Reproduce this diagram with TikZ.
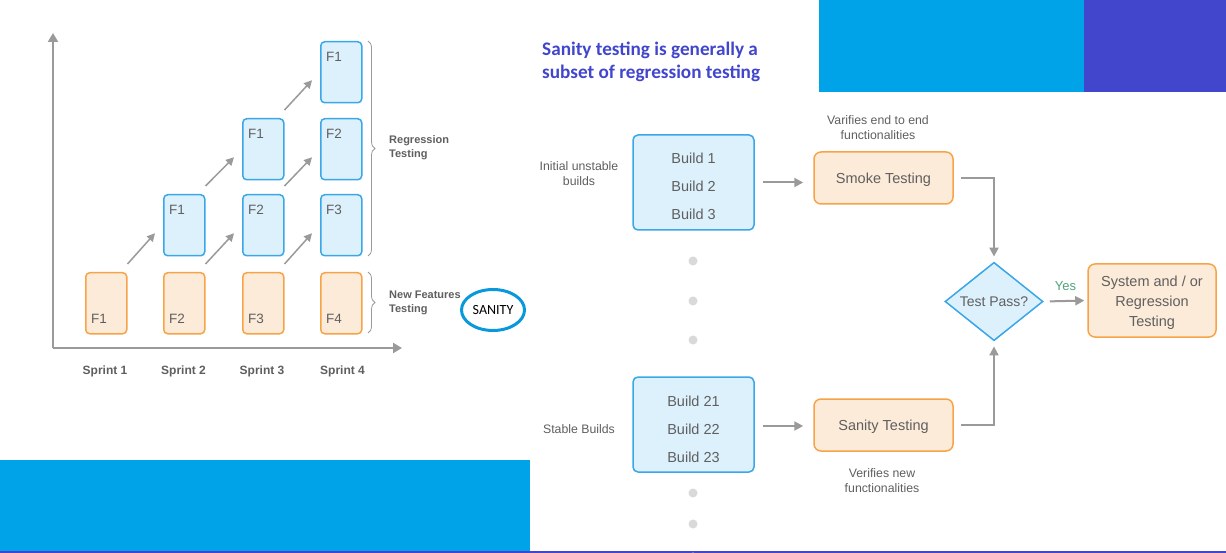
\documentclass[tikz,border=0pt]{standalone}
\usepackage{fontspec}
\setmainfont{Liberation Sans}
\newfontfamily\calib{Carlito}
\usetikzlibrary{arrows.meta,shapes.geometric,decorations.pathreplacing,calc}
\definecolor{cyanbar}{HTML}{00A3E8}
\definecolor{purplebar}{HTML}{4146CC}
\definecolor{bluefill}{HTML}{DDF1FD}
\definecolor{blueline}{HTML}{3AA7E8}
\definecolor{orfill}{HTML}{FDEBD9}
\definecolor{orline}{HTML}{F7A448}
\definecolor{txtgray}{HTML}{5F5F5F}
\definecolor{arrgray}{HTML}{9A9A9A}
\definecolor{dotgray}{HTML}{D9D9D9}
\definecolor{yesgreen}{HTML}{4DA57A}
\definecolor{ringblue}{HTML}{0A98DC}
\begin{document}
\begin{tikzpicture}[x=1pt,y=-1pt,
  axis/.style={draw=arrgray,line width=2pt,-{Triangle[length=9pt,width=10pt]}},
  diag/.style={draw=arrgray,line width=1.5pt,-{Triangle[length=8pt,width=8pt]}},
  flow/.style={draw=arrgray,line width=2pt,-{Triangle[length=9pt,width=9pt]}},
  featbox/.style={minimum width=41pt,minimum height=61pt,rounded corners=4pt,line width=1.5pt,inner sep=0pt,anchor=north west},
  obox/.style={featbox,draw=orline,fill=orfill},
  bbox/.style={featbox,draw=blueline,fill=bluefill},
  flab/.style={anchor=west,inner sep=0pt,text=txtgray,font=\fontsize{13.5}{15}\selectfont},
  sprintlab/.style={text=txtgray,font=\bfseries\fontsize{12}{14}\selectfont},
  sidelab/.style={anchor=west,align=left,inner sep=0pt,text=txtgray,font=\bfseries\fontsize{11}{14}\selectfont},
  bracestyle/.style={draw=arrgray,line width=0.8pt,decorate,decoration={brace,amplitude=7pt}},
  buildbox/.style={draw=blueline,fill=bluefill,line width=1.5pt,rounded corners=5pt,minimum width=121pt,minimum height=95pt},
  testbox/.style={draw=orline,fill=orfill,line width=1.5pt,rounded corners=7pt,minimum width=139pt,minimum height=52pt},
  boxtext/.style={align=center,inner sep=0pt,text=txtgray,font=\fontsize{14.5}{28}\selectfont},
  note/.style={align=center,text=txtgray,font=\fontsize{12.3}{15}\selectfont},
  dot/.style={circle,fill=dotgray,minimum size=9pt,inner sep=0pt}
]
\clip (0,0) rectangle (1226,553);
\fill[white] (0,0) rectangle (1226,553);
% colour bars
\fill[cyanbar] (819,0) rectangle (1084,92);
\fill[purplebar] (1084,0) rectangle (1226,92);
\fill[cyanbar] (0,460) rectangle (530,553);
\fill[purplebar] (0,551) rectangle (1226,553);

% ---------- left chart ----------
\coordinate (origin) at (53,348);
\coordinate (ytip) at (53,33);
\coordinate (xtip) at (402,348);
\draw[axis] (origin) -- (ytip);
\draw[axis] (origin) -- (xtip);

\node[obox] (o1) at (85,272) {};
\node[obox] (o2) at (163,272) {};
\node[obox] (o3) at (242,272) {};
\node[obox] (o4) at (320,272) {};
\node[bbox] (b21) at (163,194) {};
\node[bbox] (b31) at (242,194) {};
\node[bbox] (b32) at (242,118) {};
\node[bbox] (b41) at (320,194) {};
\node[bbox] (b42) at (320,118) {};
\node[bbox] (b43) at (320,41) {};

\node[flab] (o1t) at ($(o1.south west)+(6,-16)$) {F1};
\node[flab] (o2t) at ($(o2.south west)+(6,-16)$) {F2};
\node[flab] (o3t) at ($(o3.south west)+(6,-16)$) {F3};
\node[flab] (o4t) at ($(o4.south west)+(6,-16)$) {F4};
\node[flab] (b21t) at ($(b21.north west)+(6,16)$) {F1};
\node[flab] (b31t) at ($(b31.north west)+(6,16)$) {F2};
\node[flab] (b32t) at ($(b32.north west)+(6,16)$) {F1};
\node[flab] (b41t) at ($(b41.north west)+(6,16)$) {F3};
\node[flab] (b42t) at ($(b42.north west)+(6,16)$) {F2};
\node[flab] (b43t) at ($(b43.north west)+(6,16)$) {F1};

\draw[diag] ([yshift=8pt]o1.north east) -- ([xshift=-8pt,yshift=-8pt]b21.west);
\draw[diag] ([yshift=8pt]o2.north east) -- ([xshift=-8pt,yshift=-8pt]b31.west);
\draw[diag] ([yshift=8pt]o3.north east) -- ([xshift=-8pt,yshift=-8pt]b41.west);
\draw[diag] ([yshift=8pt]b21.north east) -- ([xshift=-8pt,yshift=-8pt]b32.west);
\draw[diag] ([yshift=8pt]b31.north east) -- ([xshift=-8pt,yshift=-8pt]b42.west);
\draw[diag] ([yshift=8pt]b32.north east) -- ([xshift=-8pt,yshift=-8pt]b43.west);

\coordinate (br1a) at (368,41);
\coordinate (br1b) at (368,256);
\coordinate (br2a) at (368,272);
\coordinate (br2b) at (368,333);
\draw[bracestyle] (br1a) -- (br1b);
\draw[bracestyle] (br2a) -- (br2b);
\node[sidelab] (reglab) at (389,148) {Regression\\Testing};
\node[sidelab] (nflab) at (389,303) {New Features\\Testing};

\node[sprintlab] (s1) at (105,371) {Sprint 1};
\node[sprintlab] (s2) at (183.5,371) {Sprint 2};
\node[sprintlab] (s3) at (262,371) {Sprint 3};
\node[sprintlab] (s4) at (342.5,371) {Sprint 4};

\node[ellipse,draw=ringblue,line width=3pt,minimum width=63pt,minimum height=41pt,inner sep=0pt,font=\calib\fontsize{14}{16}\selectfont] (sanity) at (493,310) {SANITY};

% ---------- title ----------
\node[anchor=north west,align=left,inner sep=0pt,text=purplebar,font=\calib\bfseries\fontsize{19.2}{23}\selectfont] (title) at (542,42) {Sanity testing is generally a\\subset of regression testing};

% ---------- right flowchart ----------
\node[buildbox] (bA) at (693.5,182.5) {};
\node[boxtext] (bAt) at (693.5,186.5) {Build 1\\Build 2\\Build 3};
\node[buildbox] (bB) at (693.5,424.5) {};
\node[boxtext] (bBt) at (693.5,429) {Build 21\\Build 22\\Build 23};
\node[testbox] (smoke) at (883.5,178) {};
\node[boxtext] (smoket) at (883.5,180) {Smoke Testing};
\node[testbox] (sanit) at (883.5,425) {};
\node[boxtext] (sanitt) at (883.5,427) {Sanity Testing};
\node[diamond,draw=blueline,fill=bluefill,line width=1.5pt,minimum width=98pt,minimum height=77pt,inner sep=0pt,text=txtgray,font=\fontsize{14}{16}\selectfont] (dec) at (994,301.5) {Test Pass?};
\node[testbox,minimum width=128pt,minimum height=73pt] (sys) at (1152,300.5) {};
\node[boxtext,font=\fontsize{14.5}{20}\selectfont] (syst) at (1152,302.5) {System and / or\\Regression\\Testing};

\node[note] (n1) at (579,173.5) {Initial unstable\\builds};
\node[note] (n2) at (579,429) {Stable Builds};
\node[note] (n3) at (878,128) {Varifies end to end\\functionalities};
\node[note] (n4) at (882,481) {Verifies new\\functionalities};

\draw[flow,shorten <=8pt,shorten >=10pt] (bA.east) -- (bA.east -| smoke.west);
\draw[flow,shorten <=8pt,shorten >=10pt] ([yshift=-1.5pt]bB.east) -- ([yshift=-1.5pt]bB.east -| sanit.west);
\draw[flow,shorten <=7pt,shorten >=5pt] (smoke.east) -| (dec.north);
\draw[flow,shorten <=7pt,shorten >=5pt] (sanit.east) -| (dec.south);
\draw[flow,shorten <=6pt,shorten >=3pt] (dec.east) -- node[above=6pt,text=yesgreen,font=\fontsize{13}{15}\selectfont] (yes) {Yes} (sys.west);

\node[dot] (d1) at (693,261) {};
\node[dot] (d2) at (693,301) {};
\node[dot] (d3) at (693,340) {};
\node[dot] (d4) at (693,493) {};
\node[dot] (d5) at (693,524) {};
\node[dot] (d6) at (693,557) {};
\end{tikzpicture}
\end{document}
